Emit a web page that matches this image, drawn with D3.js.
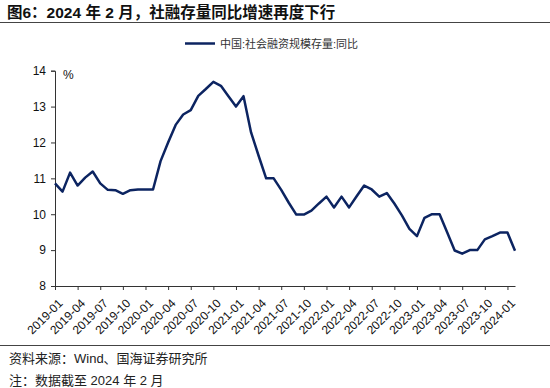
<!DOCTYPE html>
<html>
<head>
<meta charset="utf-8">
<script src="https://cdn.jsdelivr.net/npm/d3@7"></script>
<style>
  body { margin: 0; background: #fff; }
  svg { display: block; font-family: Arial, "Liberation Sans", "Noto Sans CJK SC", sans-serif; }
</style>
</head>
<body>
<script>
// 月份 2019-01 .. 2024-02
const months = [];
for (let y = 2019; y <= 2024; y++) {
  for (let m = 1; m <= 12; m++) {
    if (y === 2024 && m > 2) break;
    months.push(`${y}-${String(m).padStart(2, "0")}`);
  }
}

// 中国:社会融资规模存量:同比 (%)
const tsfYoY = [
  10.86, 10.63, 11.16, 10.8, 11.02, 11.19, 10.86, 10.68, 10.67, 10.57, 10.67, 10.69,
  10.69, 10.69, 11.48, 12.0, 12.49, 12.78, 12.9, 13.3, 13.49, 13.69, 13.58, 13.29,
  13.0, 13.29, 12.28, 11.63, 11.0, 11.0, 10.68, 10.32, 9.99, 9.99, 10.1, 10.3,
  10.49, 10.19, 10.49, 10.19, 10.5, 10.8, 10.69, 10.49, 10.59, 10.3, 9.97, 9.59,
  9.39, 9.9, 10.0, 10.0, 9.5, 8.99, 8.9, 9.0, 9.0, 9.3, 9.39, 9.49,
  9.49, 8.98
];

const yTicks = [8, 9, 10, 11, 12, 13, 14];
const xTickLabels = months.filter((d, i) => i % 3 === 0);

const W = 550, H = 388;
const svg = d3.select("body").append("svg").attr("width", W).attr("height", H);

// 标题
svg.append("text")
  .attr("x", 7).attr("y", 17.5)
  .style("font-size", "15.5px").style("font-weight", "bold").style("fill", "#111")
  .text("图6：2024 年 2 月，社融存量同比增速再度下行");
svg.append("line")
  .attr("x1", 0).attr("x2", W).attr("y1", 22.5).attr("y2", 22.5)
  .style("stroke", "#444").style("stroke-width", 1.2);

// 图例
svg.append("line")
  .attr("x1", 185).attr("x2", 215).attr("y1", 43.5).attr("y2", 43.5)
  .style("stroke", "#0c2461").style("stroke-width", 2.5);
svg.append("text")
  .attr("x", 220).attr("y", 47.5)
  .style("font-size", "11px").style("fill", "#333")
  .text("中国:社会融资规模存量:同比");

const x = d3.scalePoint().domain(months).range([55, 515]);
const y = d3.scaleLinear().domain([8, 14]).range([286, 70.7]);

// y 轴
const yAxis = svg.append("g")
  .attr("transform", "translate(55,0)")
  .call(d3.axisLeft(y).tickValues(yTicks).tickSize(4).tickPadding(5).tickFormat(d3.format("d")));
yAxis.select(".domain").style("stroke", "#333");
yAxis.selectAll(".tick line").style("stroke", "#333");
yAxis.selectAll("text").style("font-size", "12px").style("fill", "#111").style("font-family", "Arial, 'Liberation Sans', sans-serif");

svg.append("text")
  .attr("x", 63).attr("y", 79)
  .style("font-size", "12px").style("fill", "#111")
  .text("%");

// x 轴
const xAxis = svg.append("g")
  .attr("transform", "translate(0,286)")
  .call(d3.axisBottom(x).tickValues(xTickLabels).tickSize(4).tickSizeOuter(0));
xAxis.select(".domain").style("stroke", "#333");
xAxis.selectAll(".tick line").style("stroke", "#333");
xAxis.selectAll("text")
  .style("font-size", "12px").style("fill", "#111")
  .style("font-family", "Arial, 'Liberation Sans', sans-serif")
  .attr("text-anchor", "end")
  .attr("dx", 0).attr("dy", 0)
  .attr("transform", "translate(3,13) rotate(-45)");

// 折线
const line = d3.line()
  .x((d, i) => x(months[i]))
  .y(d => y(d));
svg.append("path")
  .datum(tsfYoY)
  .attr("d", line)
  .style("fill", "none")
  .style("stroke", "#0c2461")
  .style("stroke-width", 2.5)
  .style("stroke-linejoin", "round");

// 底部
svg.append("line")
  .attr("x1", 0).attr("x2", W).attr("y1", 345.5).attr("y2", 345.5)
  .style("stroke", "#444").style("stroke-width", 1);
svg.append("text")
  .attr("x", 9).attr("y", 362.5)
  .style("font-size", "13px").style("fill", "#222")
  .text("资料来源：Wind、国海证券研究所");
svg.append("text")
  .attr("x", 9).attr("y", 385)
  .style("font-size", "13px").style("fill", "#222")
  .text("注：数据截至 2024 年 2 月");
</script>
</body>
</html>
